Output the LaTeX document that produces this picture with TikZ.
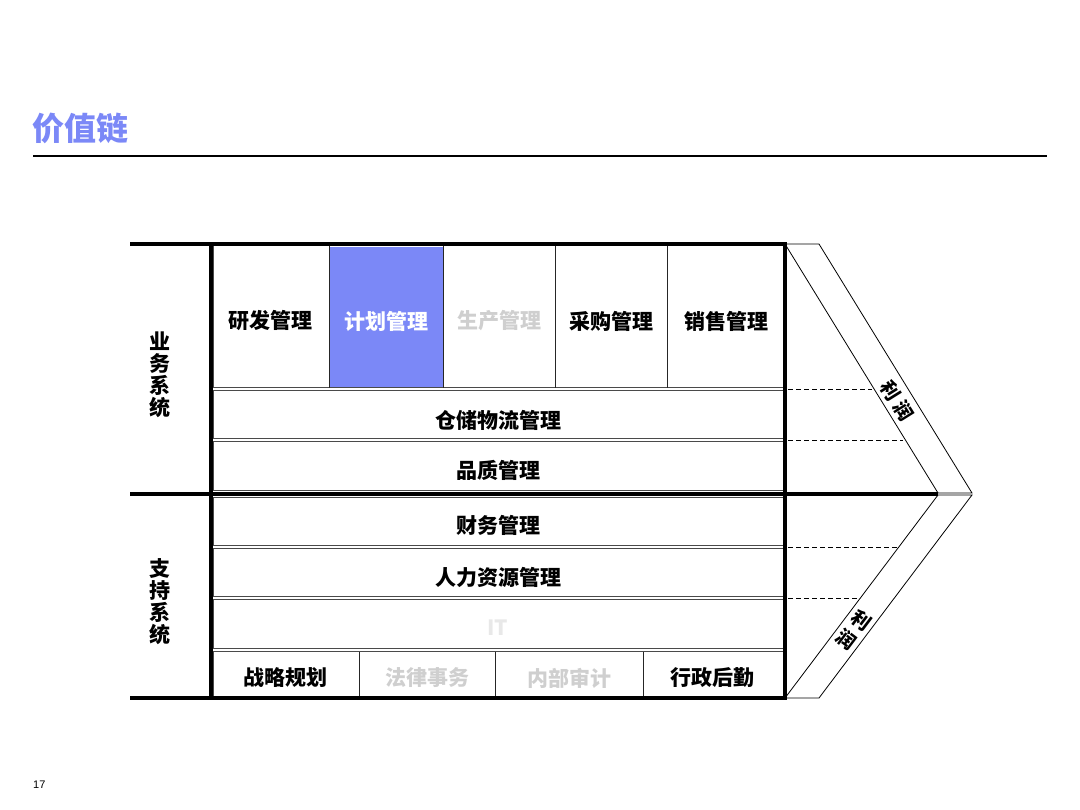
\documentclass[tikz,border=0pt]{standalone}
\usepackage{fontspec}
\setmainfont{Noto Sans CJK SC}
\newfontfamily\pagefont{Liberation Sans}
\usetikzlibrary{positioning}
\definecolor{periwinkle}{HTML}{7B88F7}
\definecolor{ashgray}{HTML}{CFCFCF}
\definecolor{mistgray}{HTML}{E8E8E8}
\definecolor{rowline}{HTML}{4A4A4A}

\begin{document}
\begin{tikzpicture}[x=1pt,y=-1pt,
    thickrule/.style={line width=3.5pt},
    rowbox/.style={draw=rowline, line width=1pt},
    colsep/.style={draw=black!85, line width=0.8pt},
    cname/.style={font=\fontsize{21}{21}\selectfont\bfseries},
    sidename/.style={font=\fontsize{21}{22}\selectfont\bfseries, align=center},
    profit/.style={font=\fontsize{19}{24}\selectfont\bfseries, inner sep=0pt}]
    \useasboundingbox (0,0) rectangle (1080,810);

    % Title and rule
    \node[anchor=west, inner sep=0pt, text=periwinkle, font=\fontsize{32}{32}\selectfont\bfseries] (title) at (32,128) {价值链};
    \draw[line width=1.2pt] (33,156) -- (1047,156);

    % Highlighted cell
    \fill[periwinkle] (329,247) rectangle (443,388);

    % Row boxes
    \draw[rowbox] (213,246) rectangle (783,388);
    \draw[rowbox] (213,390.5) rectangle (783,438.5);
    \draw[rowbox] (213,441.5) rectangle (783,490);
    \draw[rowbox] (213,497) rectangle (783,545);
    \draw[rowbox] (213,548) rectangle (783,596.5);
    \draw[rowbox] (213,599.5) rectangle (783,648.5);
    \draw[rowbox] (213,651.5) rectangle (783,697);

    % Column dividers
    \draw[colsep] (329,246) -- (329,388);
    \draw[colsep] (443,246) -- (443,388);
    \draw[colsep] (555,246) -- (555,388);
    \draw[colsep] (667,246) -- (667,388);
    \draw[colsep] (359,651.5) -- (359,697);
    \draw[colsep] (495,651.5) -- (495,697);
    \draw[colsep] (643,651.5) -- (643,697);

    % Frame
    \draw[thickrule] (130,244) -- (786,244);
    \draw[thickrule] (130,494) -- (938,494);
    \draw[thickrule] (130,698) -- (786,698);
    \draw[thickrule] (211,242.25) -- (211,699.75);
    \draw[thickrule] (785,242.25) -- (785,699.75);

    % Profit band
    \draw[line width=0.8pt] (785,244) -- (819,244) -- (972,493) -- (938,493) -- cycle;
    \draw[line width=0.8pt] (938,495) -- (972,495) -- (819,698) -- (785,698) -- cycle;
    \draw[dashed, dash pattern=on 5pt off 3pt, line width=0.8pt] (788,389) -- (872,389);
    \draw[dashed, dash pattern=on 5pt off 3pt, line width=0.8pt] (788,440) -- (903,440);
    \draw[dashed, dash pattern=on 5pt off 3pt, line width=0.8pt] (788,547) -- (899,547);
    \draw[dashed, dash pattern=on 5pt off 3pt, line width=0.8pt] (788,598) -- (860,598);
    \node[profit, rotate=-58] (profittop) at (897,401) {利\hspace{5pt}润};
    \node[profit, align=center, rotate=-37] (profitbot) at (854,630) {利\\润};

    % Side labels
    \node[sidename] (bizsys) at (160,375) {业\\务\\系\\统};
    \node[sidename] (supsys) at (160,602) {支\\持\\系\\统};

    % Business cells
    \node[cname] (rnd) at (270,321) {研发管理};
    \node[cname, text=white] (plan) at (386,321) {计划管理};
    \node[cname, text=ashgray] (prod) at (499,321) {生产管理};
    \node[cname] (purch) at (611,321) {采购管理};
    \node[cname] (sales) at (726,321) {销售管理};
    \node[cname] (logis) at (498,420) {仓储物流管理};
    \node[cname] (quality) at (498,470) {品质管理};

    % Support cells
    \node[cname] (finance) at (498,525) {财务管理};
    \node[cname] (hr) at (498,577) {人力资源管理};
    \node[cname, text=mistgray] (itcell) at (498,628) {IT};
    \node[cname] (strategy) at (285,678) {战略规划};
    \node[cname, text=ashgray] (legal) at (427,678) {法律事务};
    \node[cname, text=ashgray] (audit) at (569,678) {内部审计};
    \node[cname] (admin) at (712,678) {行政后勤};

    % Page number
    \node[anchor=west, inner sep=0pt, font=\pagefont\fontsize{11}{11}\selectfont] (pageno) at (33,785) {17};

\end{tikzpicture}
\end{document}
